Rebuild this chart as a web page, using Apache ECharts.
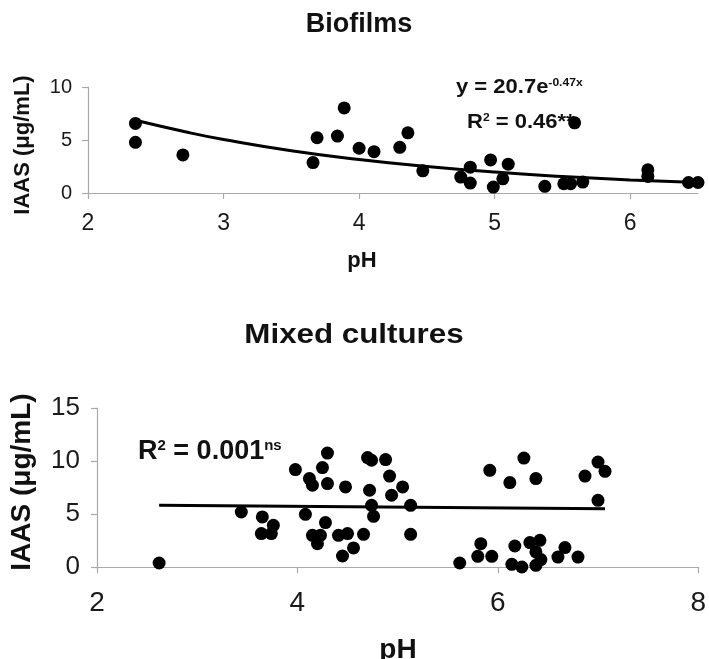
<!DOCTYPE html>
<html>
<head>
<meta charset="utf-8">
<title>IAAS vs pH</title>
<script src="https://cdn.jsdelivr.net/npm/echarts@6/dist/echarts.min.js"></script>
<style>
	html, body { margin: 0; padding: 0; background: #fff; }
	#chart { width: 709px; height: 659px; }
</style>
</head>
<body>
<div id="chart"></div>
<script>
// Biofilms panel
var bioPH   = [2.35, 2.35, 2.70, 3.66, 3.69, 3.84, 3.89, 4.00, 4.11, 4.30, 4.36, 4.47, 4.75, 4.82, 4.82,
               4.97, 4.99, 5.06, 5.10, 5.37, 5.51, 5.56, 5.59, 5.65, 6.13, 6.13, 6.43, 6.50];
var bioIAAS = [6.56, 4.78, 3.59, 2.87, 5.21, 5.37, 8.03, 4.22, 3.90, 4.31, 5.68, 2.09, 1.50, 2.44, 0.94,
               3.12, 0.56, 1.34, 2.72, 0.63, 0.87, 0.87, 6.62, 1.03, 2.19, 1.56, 0.99, 0.99];
// fitted curve y = 20.7e^-0.47x, read at a few pH values
var bioTrendPH   = [2.35, 2.75, 3.0, 3.5, 4.0, 4.5, 5.0, 5.5, 6.0, 6.5];
var bioTrendIAAS = [6.86, 5.68, 5.05, 3.99, 3.16, 2.50, 1.97, 1.56, 1.23, 0.98];
var bioXTicks = [2, 3, 4, 5, 6];
var bioYTicks = [0, 5, 10];

// Mixed cultures panel
var mixPH   = [2.62, 3.44, 3.65, 3.64, 3.76, 3.74, 3.98, 4.12, 4.15, 4.08, 4.30, 4.25, 4.30, 4.48, 4.28,
               4.15, 4.23, 4.20, 4.41, 4.50, 4.45, 4.56, 4.66, 4.70, 4.74, 4.88, 4.92, 4.72, 5.05, 4.94,
               4.74, 4.76, 5.13, 5.13, 5.62, 5.83, 5.80, 5.94, 5.92, 6.12, 6.26, 6.38, 6.17, 6.14, 6.24,
               6.32, 6.42, 6.38, 6.43, 6.38, 6.60, 6.67, 6.80, 6.87, 7.00, 7.07, 7.00];
var mixIAAS = [0.38, 5.19, 4.72, 3.15, 3.93, 3.15, 9.19, 8.34, 7.71, 4.97, 10.75, 9.38, 7.87, 7.55, 4.19,
               2.99, 2.99, 2.20, 2.99, 3.15, 1.04, 1.80, 3.08, 10.32, 10.07, 10.13, 8.58, 7.24, 7.55, 6.77,
               5.82, 4.78, 5.82, 3.08, 0.38, 2.20, 1.01, 1.01, 9.12, 7.96, 10.28, 8.34, 1.98, 0.25, 0.00,
               2.30, 2.52, 1.42, 0.70, 0.16, 0.94, 1.83, 0.94, 8.58, 9.90, 9.03, 6.29];
var mixTrendPH   = [2.62, 7.07];
var mixTrendIAAS = [5.82, 5.50];
var mixXTicks = [2, 4, 6, 8];
var mixYTicks = [0, 5, 10, 15];

var FONT = '"Liberation Sans", Arial, sans-serif';
var AXIS_GRAY = '#a9a9a9';

function pairs(xs, ys) {
	var out = [];
	for (var i = 0; i < xs.length; i++) {
		out.push([xs[i], ys[i]]);
	}
	return out;
}

function valueAxis(idx, min, max, step, ticks, fontSize, margin) {
	return {
		type: 'value',
		gridIndex: idx,
		min: min,
		max: max,
		interval: step,
		axisLine: { show: true, lineStyle: { color: AXIS_GRAY, width: 1.2 } },
		axisTick: { show: true, length: 6, customValues: ticks, lineStyle: { color: AXIS_GRAY, width: 1.2 } },
		axisLabel: { customValues: ticks, fontSize: fontSize, fontFamily: FONT, color: '#1a1a1a', margin: margin },
		splitLine: { show: false }
	};
}

function label(x, y, text, size, opts) {
	opts = opts || {};
	return {
		type: 'text',
		x: x,
		y: y,
		rotation: opts.rotation || 0,
		scaleX: opts.scaleX || 1,
		style: {
			text: text,
			fontSize: size,
			fontWeight: 'bold',
			fontFamily: FONT,
			fill: '#111',
			rich: opts.rich,
			align: opts.align || 'center',
			verticalAlign: 'middle'
		}
	};
}

var supRich = function(base, sup) {
	return {
		m: { fontSize: base, fontWeight: 'bold', fontFamily: FONT, fill: '#111' },
		s: { fontSize: sup, fontWeight: 'bold', fontFamily: FONT, fill: '#111', verticalAlign: 'top' }
	};
};

var chart = echarts.init(document.getElementById('chart'));
chart.setOption({
	backgroundColor: '#fff',
	animation: false,
	grid: [
		{ left: 88, top: 87, width: 610, height: 106 },
		{ left: 97, top: 408, width: 604, height: 159 }
	],
	xAxis: [
		valueAxis(0, 2, 6.5, 1, bioXTicks, 23, 19),
		valueAxis(1, 2, 8, 2, mixXTicks, 28, 22)
	],
	yAxis: [
		valueAxis(0, 0, 10, 5, bioYTicks, 20, 16),
		valueAxis(1, 0, 15, 5, mixYTicks, 26, 17)
	],
	series: [
		{
			type: 'line', xAxisIndex: 0, yAxisIndex: 0, smooth: true, showSymbol: false,
			lineStyle: { color: '#000', width: 3 },
			data: pairs(bioTrendPH, bioTrendIAAS)
		},
		{
			type: 'scatter', xAxisIndex: 0, yAxisIndex: 0, symbolSize: 13,
			itemStyle: { color: '#000', opacity: 1 },
			data: pairs(bioPH, bioIAAS)
		},
		{
			type: 'line', xAxisIndex: 1, yAxisIndex: 1, showSymbol: false,
			lineStyle: { color: '#000', width: 3 },
			data: pairs(mixTrendPH, mixTrendIAAS)
		},
		{
			type: 'scatter', xAxisIndex: 1, yAxisIndex: 1, symbolSize: 13,
			itemStyle: { color: '#000', opacity: 1 },
			data: pairs(mixPH, mixIAAS)
		}
	],
	graphic: [
		// panel titles
		label(359, 25, 'Biofilms', 27),
		label(354, 336, 'Mixed cultures', 27, { scaleX: 1.16 }),
		// axis names
		label(362, 261, 'pH', 22),
		label(398, 650, 'pH', 28),
		label(23, 145, 'IAAS (\u03bcg/mL)', 22, { rotation: Math.PI / 2 }),
		label(22, 482, 'IAAS (\u03bcg/mL)', 28, { rotation: Math.PI / 2 }),
		// fit annotations
		label(456, 87, '{m|y = 20.7e}{s|-0.47x}', 20, { align: 'left', scaleX: 1.1, rich: supRich(20, 11) }),
		label(467, 122, '{m|R}{s|2}{m| = 0.46**}', 20, { align: 'left', scaleX: 1.1, rich: supRich(20, 11) }),
		label(138, 452, '{m|R}{s|2}{m| = 0.001}{s|ns}', 27, { align: 'left', rich: supRich(27, 15) })
	]
});
</script>
</body>
</html>
